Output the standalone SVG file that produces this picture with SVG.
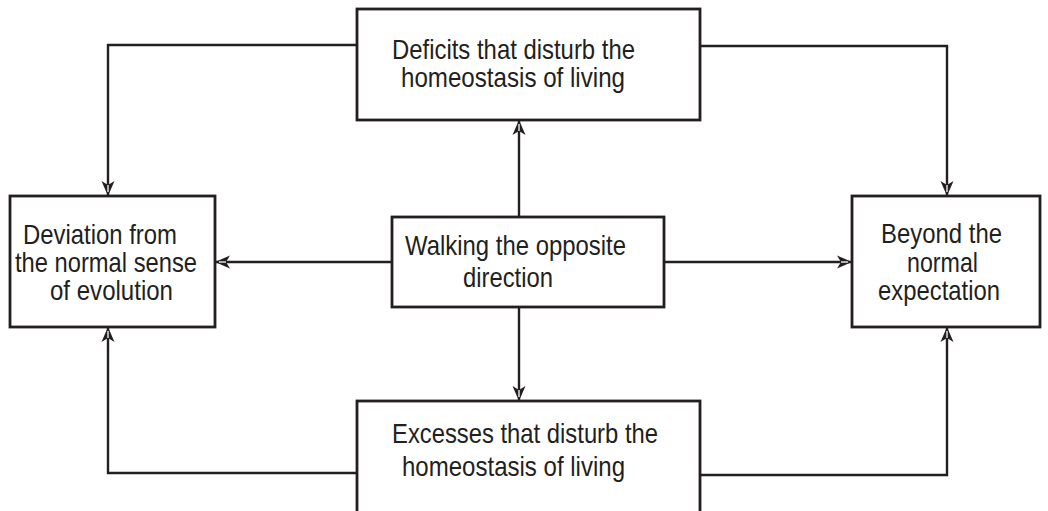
<svg xmlns="http://www.w3.org/2000/svg" width="1048" height="511" viewBox="0 0 1048 511">
<style>
.box{fill:#fff;stroke:#231f20;stroke-width:2.8}
.ln{fill:none;stroke:#231f20;stroke-width:2.4}
.t{font-family:"Liberation Sans",Arial,sans-serif;font-size:28px;fill:#231f20}
</style>
<defs>
<marker id="ah" viewBox="-16 -7 17 14" refX="0" refY="0" markerWidth="17" markerHeight="14" markerUnits="userSpaceOnUse" orient="auto">
<path d="M0,0 L-15,-6.5 L-11,0 L-15,6.5 Z" fill="#231f20"/>
<path d="M-11,0 L-4,0" stroke="#fff" stroke-width="1.3"/>
</marker>
</defs>
<g id="connectors">
<path class="ln" d="M357,45 H108 V196" marker-end="url(#ah)"/>
<path class="ln" d="M700,46 H947 V196" marker-end="url(#ah)"/>
<path class="ln" d="M357,473 H108 V327" marker-end="url(#ah)"/>
<path class="ln" d="M700,475 H947 V327" marker-end="url(#ah)"/>
<path class="ln" d="M519,217 V120" marker-end="url(#ah)"/>
<path class="ln" d="M519,307 V401" marker-end="url(#ah)"/>
<path class="ln" d="M392,262 H215" marker-end="url(#ah)"/>
<path class="ln" d="M664,262 H852" marker-end="url(#ah)"/>
</g>
<g id="top">
<rect class="box" x="357" y="9" width="343" height="111"/>
<text class="t" x="392" y="59" textLength="243" lengthAdjust="spacingAndGlyphs">Deficits that disturb the</text>
<text class="t" x="401" y="87" textLength="224" lengthAdjust="spacingAndGlyphs">homeostasis of living</text>
</g>
<g id="left">
<rect class="box" x="10" y="196" width="205" height="131"/>
<text class="t" x="23" y="244" textLength="154" lengthAdjust="spacingAndGlyphs">Deviation from</text>
<text class="t" x="15" y="272" textLength="182" lengthAdjust="spacingAndGlyphs">the normal sense</text>
<text class="t" x="50" y="300" textLength="123" lengthAdjust="spacingAndGlyphs">of evolution</text>
</g>
<g id="center">
<rect class="box" x="392" y="217" width="272" height="90"/>
<text class="t" x="405" y="255" textLength="221" lengthAdjust="spacingAndGlyphs">Walking the opposite</text>
<text class="t" x="463" y="287" textLength="90" lengthAdjust="spacingAndGlyphs">direction</text>
</g>
<g id="right">
<rect class="box" x="852" y="196" width="188" height="131"/>
<text class="t" x="881" y="243" textLength="121" lengthAdjust="spacingAndGlyphs">Beyond the</text>
<text class="t" x="907" y="272" textLength="71" lengthAdjust="spacingAndGlyphs">normal</text>
<text class="t" x="878" y="300" textLength="122" lengthAdjust="spacingAndGlyphs">expectation</text>
</g>
<g id="bottom">
<rect class="box" x="357" y="401" width="343" height="130"/>
<text class="t" x="392" y="443" textLength="266" lengthAdjust="spacingAndGlyphs">Excesses that disturb the</text>
<text class="t" x="402" y="476" textLength="223" lengthAdjust="spacingAndGlyphs">homeostasis of living</text>
</g>
</svg>
